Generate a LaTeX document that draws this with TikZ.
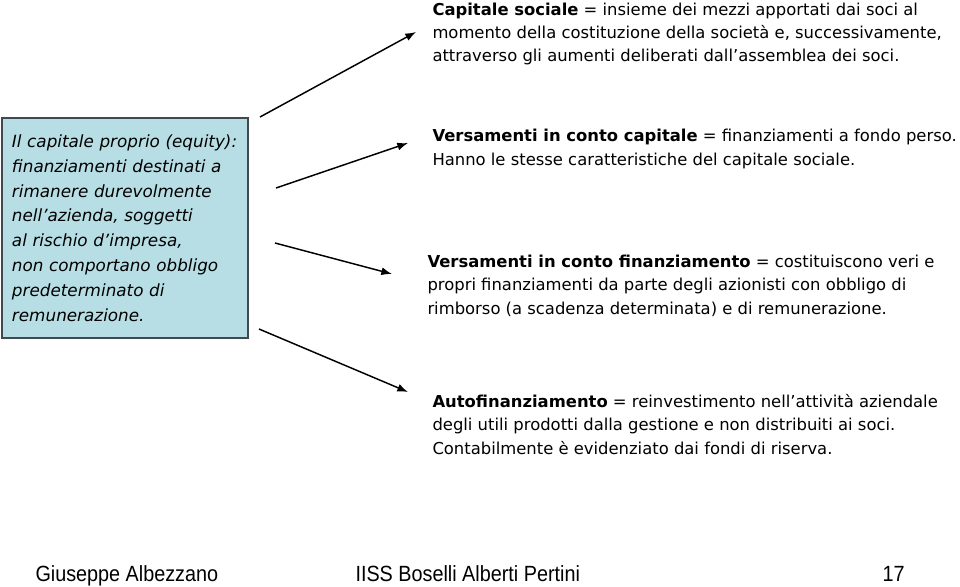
\documentclass[tikz,border=0pt]{standalone}
\usepackage{fontspec}
\setmainfont{DejaVu Sans}
\newfontfamily\footfont[FakeStretch=0.9]{Liberation Sans}
\usetikzlibrary{arrows.meta}

\tikzset{every picture/.style={line width=0.75pt}}
\tikzset{
  arr/.style={line width=1.1pt, -{Latex[length=8pt,width=6pt]}},
  txt/.style={anchor=base west, inner sep=0pt, align=left},
}

\begin{document}
\begin{tikzpicture}[x=0.75pt,y=0.75pt,yscale=-1,xscale=1]
\useasboundingbox (0,0) rectangle (960,586);

%Shape: Rectangle
\node [anchor=north west, draw={rgb, 255:red, 64; green, 72; blue, 80 }, line width=1.5pt, fill={rgb, 255:red, 183; green, 222; blue, 228 }, minimum width=181.5pt, minimum height=165pt, text width=169.5pt, inner xsep=7.5pt, align=left, font=\itshape\fontsize{12.6}{18.6}\selectfont] (equity) at (1,117) {Il capitale proprio (equity):\\ finanziamenti destinati a\\ rimanere durevolmente\\ nell’azienda, soggetti\\ al rischio d’impresa,\\ non comportano obbligo\\ predeterminato di\\ remunerazione.};

% Text Node (anchored at the baseline of the last line)
\node [txt, font=\fontsize{12.3}{16.9}\selectfont] (capsoc) at (432,61) {\textbf{Capitale sociale} = insieme dei mezzi apportati dai soci al\\ momento della costituzione della società e, successivamente,\\ attraverso gli aumenti deliberati dall’assemblea dei soci.};
% Text Node
\node [txt, font=\fontsize{12.3}{17.4}\selectfont] (vcap) at (432,165) {\textbf{Versamenti in conto capitale} = finanziamenti a fondo perso.\\ Hanno le stesse caratteristiche del capitale sociale.};
% Text Node
\node [txt, font=\fontsize{12.3}{17.6}\selectfont] (vfin) at (427,314) {\textbf{Versamenti in conto finanziamento} = costituiscono veri e\\ propri finanziamenti da parte degli azionisti con obbligo di\\ rimborso (a scadenza determinata) e di remunerazione.};
% Text Node
\node [txt, font=\fontsize{12.3}{17.6}\selectfont] (autofin) at (432,454) {\textbf{Autofinanziamento} = reinvestimento nell’attività aziendale\\ degli utili prodotti dalla gestione e non distribuiti ai soci.\\ Contabilmente è evidenziato dai fondi di riserva.};

%Straight Lines
\coordinate (s1) at (260,117);
\coordinate (e1) at (416,32);
\coordinate (s2) at (276,188);
\coordinate (e2) at (408,143);
\coordinate (s3) at (275,243);
\coordinate (e3) at (392,274);
\coordinate (s4) at (259,329);
\coordinate (e4) at (408,392);
\draw [arr] (s1) -- (e1);
\draw [arr] (s2) -- (e2);
\draw [arr] (s3) -- (e3);
\draw [arr] (s4) -- (e4);

% Text Node
\node [txt, font=\footfont\fontsize{16.5}{18}\selectfont] (author) at (35,581) {Giuseppe Albezzano};
\node [txt, font=\footfont\fontsize{16.5}{18}\selectfont] (school) at (355,581) {IISS Boselli Alberti Pertini};
\node [txt, font=\footfont\fontsize{16.5}{18}\selectfont] (page) at (882,581) {17};

\end{tikzpicture}
\end{document}
